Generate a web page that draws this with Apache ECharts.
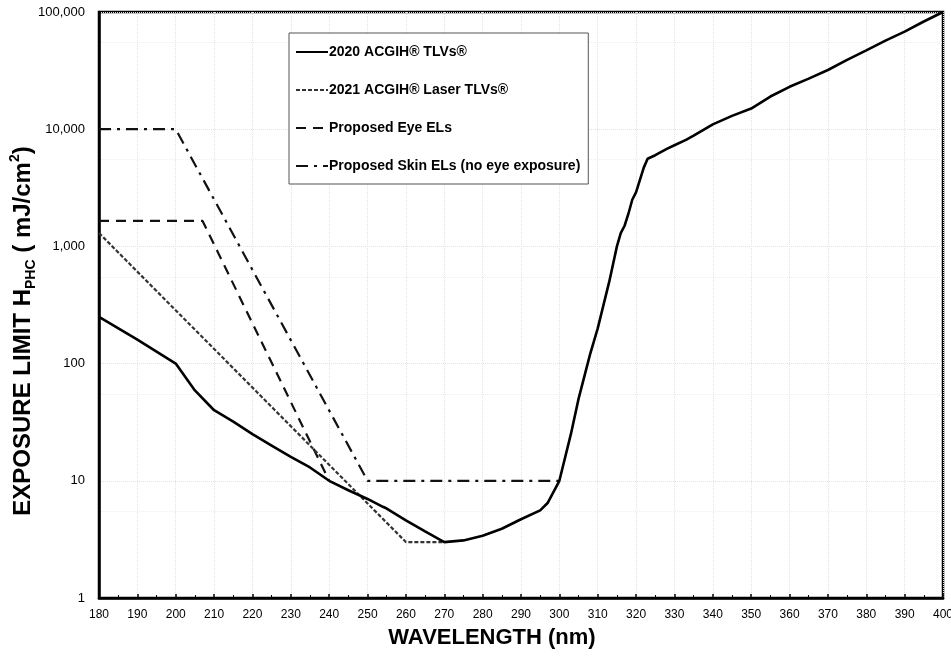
<!DOCTYPE html>
<html>
<head>
<meta charset="utf-8">
<script src="https://cdn.jsdelivr.net/npm/echarts@6/dist/echarts.min.js"></script>
<style>
  html, body { margin: 0; padding: 0; background: #fff; }
  #chart { width: 951px; height: 656px; }
</style>
</head>
<body>
<div id="chart"></div>
<script>
// wavelength (nm) / exposure limit (mJ/cm2)
var tlv2020 = [
  [180, 250], [190, 160], [200, 100], [205, 59], [210, 40], [215, 32], [220, 25],
  [225, 20], [230, 16], [235, 13], [240, 10], [245, 8.3], [250, 7.0], [254, 6.0],
  [255, 5.8], [260, 4.6], [265, 3.7], [270, 3.0], [275, 3.1], [280, 3.4], [285, 3.9],
  [290, 4.7], [295, 5.6], [297, 6.5], [300, 10], [303, 25], [305, 50], [308, 120],
  [310, 200], [313, 500], [315, 1000], [316, 1300], [317, 1500], [318, 1900],
  [319, 2500], [320, 2900], [322, 4700], [323, 5600], [325, 6000], [328, 6800],
  [330, 7300], [333, 8100], [335, 8800], [340, 11000], [345, 13000], [350, 15000],
  [355, 19000], [360, 23000], [365, 27000], [370, 32000], [375, 39000], [380, 47000],
  [385, 57000], [390, 68000], [395, 83000], [400, 100000]
]
var laser2021 = [[180, 1300], [260, 3.0], [270, 3.0]]
var eyeEL = [[180, 1650], [207, 1650], [240, 10]]
var skinEL = [[180, 10000], [200, 10000], [250, 10], [300, 10]]

var seriesNames = [
  '2020 ACGIH® TLVs®',
  '2021 ACGIH® Laser TLVs®',
  'Proposed Eye ELs',
  'Proposed Skin ELs (no eye exposure)'
]

var font = 'Arial, "Liberation Sans", sans-serif'
var myChart = echarts.init(document.getElementById('chart'))

function lineSeries(name, data, width, type, color, z) {
  return {
    name: name,
    type: 'line',
    data: data,
    symbol: 'none',
    z: z,
    lineStyle: { color: color, width: width, type: type },
    itemStyle: { color: color }
  }
}

var option = {
  animation: false,
  backgroundColor: '#fff',
  grid: {
    left: 99, right: 8, top: 12, bottom: 58,
    outerBoundsMode: 'none',
    show: true, borderColor: '#000', borderWidth: 2.5
  },
  legend: {
    orient: 'vertical',
    left: 289, top: 33,
    padding: [12, 8, 11, 6],
    itemGap: 24,
    itemWidth: 32,
    itemHeight: 14,
    backgroundColor: '#fff',
    borderColor: '#555',
    borderWidth: 1,
    borderRadius: 0,
    itemStyle: { opacity: 0 },
    textStyle: { fontFamily: font, fontWeight: 'bold', fontSize: 14, color: '#000', padding: [0, 0, 0, -4] },
    data: seriesNames
  },
  xAxis: {
    type: 'value',
    min: 180, max: 400, interval: 10,
    name: 'WAVELENGTH (nm)',
    nameLocation: 'middle',
    nameGap: 29,
    nameMoveOverlap: false,
    nameTextStyle: { fontFamily: font, fontWeight: 'bold', fontSize: 22, color: '#000', padding: [0, 58, 0, 0] },
    axisLine: { lineStyle: { color: '#000', width: 2.5 } },
    axisTick: { inside: true, length: 4, lineStyle: { color: '#000', width: 1.5 } },
    minorTick: { show: true, splitNumber: 2, length: 3, lineStyle: { color: '#000' } },
    axisLabel: { fontFamily: font, fontSize: 12, color: '#000', margin: 11 },
    splitLine: { show: true, lineStyle: { color: '#e3e3e3', type: 'dotted' } }
  },
  yAxis: {
    type: 'log',
    logBase: 10,
    min: 1, max: 100000,
    name: '{a|EXPOSURE LIMIT H}{b|PHC}{a| ( mJ/cm}{c|2}{a|)}',
    nameLocation: 'middle',
    nameGap: 61,
    nameMoveOverlap: false,
    nameTextStyle: {
      color: '#000',
      padding: [0, 52, 0, 0],
      rich: {
        a: { fontFamily: font, fontWeight: 'bold', fontSize: 24, color: '#000', lineHeight: 30 },
        b: { fontFamily: font, fontWeight: 'bold', fontSize: 14, color: '#000', verticalAlign: 'bottom', lineHeight: 14 },
        c: { fontFamily: font, fontWeight: 'bold', fontSize: 14, color: '#000', verticalAlign: 'top', lineHeight: 14 }
      }
    },
    axisLine: { lineStyle: { color: '#000', width: 2.5 } },
    axisTick: { show: false },
    axisLabel: {
      fontFamily: font, fontSize: 13, color: '#000', margin: 14,
      formatter: function (v) { return Math.round(v).toLocaleString('en-US') }
    },
    splitLine: { show: true, lineStyle: { color: '#e3e3e3', type: 'dotted' } },
    minorSplitLine: { show: true, lineStyle: { color: '#efefef', type: 'dotted' } },
    minorTick: { show: false, splitNumber: 2 }
  },
  series: [
    lineSeries(seriesNames[0], tlv2020, 2.6, 'solid', '#000', 5),
    lineSeries(seriesNames[1], laser2021, 2.2, [4, 2], '#333', 4),
    lineSeries(seriesNames[2], eyeEL, 2.2, [10, 7], '#111', 3),
    lineSeries(seriesNames[3], skinEL, 2.2, [12, 6, 3, 6], '#111', 3)
  ]
}

myChart.setOption(option)
window.onresize = function () {
  myChart.resize()
}
</script>
</body>
</html>
